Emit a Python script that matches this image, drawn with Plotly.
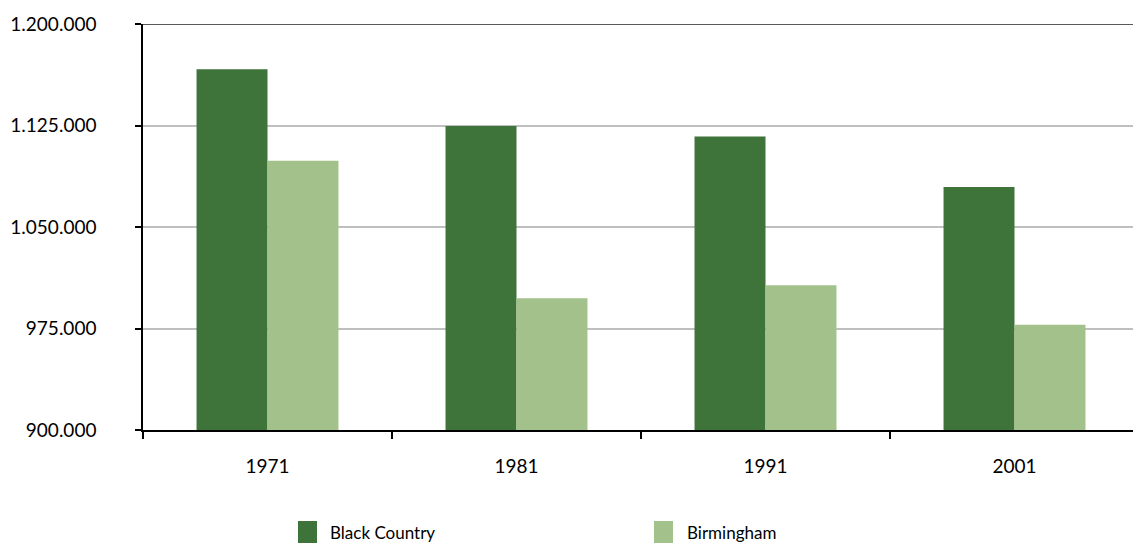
import plotly.graph_objects as go

# Population by census year
years = ["1971", "1981", "1991", "2001"]
black_country = [1166600, 1124600, 1116800, 1079500]
birmingham = [1099000, 997300, 1006900, 977700]

series_names = ["Black Country", "Birmingham"]
series_colors = ["#3E7339", "#A3C18A"]

W, H = 1133, 545
L, T, B = 143, 24, 430  # plot area edges in pixels

FONT = "Lato"
TICK_SIZE = 19
fig = go.Figure()
for name, vals, col in zip(series_names, [black_country, birmingham], series_colors):
    fig.add_trace(go.Bar(x=years, y=vals, name=name, marker_color=col,
                         marker_line_width=0, showlegend=False))


def px_x(p):
    return (p - L) / (W - L)


def px_y(p):
    return (B - p) / (B - T)


# Legend swatches and labels
legend_spots = [(298, 328), (654, 685)]
shapes = []
annotations = []
for (sx, tx), name, col in zip(legend_spots, series_names, series_colors):
    shapes.append(dict(type="rect", xref="paper", yref="paper",
                       x0=px_x(sx), x1=px_x(sx + 19), y0=px_y(521), y1=px_y(543),
                       fillcolor=col, line_width=0))
    annotations.append(dict(xref="paper", yref="paper", x=px_x(tx), y=px_y(532),
                            xanchor="left", yanchor="middle", showarrow=False,
                            text=name, font=dict(family=FONT, size=17, color="#000")))

# Dark top border of the plot area
shapes.append(dict(type="line", xref="paper", yref="y", x0=0, x1=1,
                   y0=1200000, y1=1200000, line=dict(color="#222", width=1.5)))

fig.update_layout(
    width=W, height=H,
    margin=dict(l=L, r=0, t=T, b=H - B, pad=0),
    plot_bgcolor="white", paper_bgcolor="white",
    separators=",.",
    barmode="group", bargap=0.43, bargroupgap=0,
    font=dict(family=FONT, size=17, color="#000"),
    showlegend=False,
    shapes=shapes, annotations=annotations,
    xaxis=dict(type="category", range=[-0.5, -0.5 + (W - L) / 249.0],
               showline=True, linecolor="#000", linewidth=1.5,
               ticks="outside", tickson="boundaries", ticklen=7,
               tickcolor="#000", tickwidth=1.5,
               ticklabelstandoff=18, showgrid=False,
               tickfont=dict(family=FONT, size=TICK_SIZE, color="#000")),
    yaxis=dict(range=[900000, 1200000], dtick=75000, tick0=900000,
               tickformat=",d", showline=True, linecolor="#000", linewidth=1.5,
               ticks="outside", ticklen=6, tickcolor="#000", tickwidth=1.5,
               ticklabelstandoff=35, showgrid=True, gridcolor="#BFBFBF",
               gridwidth=1.5, zeroline=False,
               tickfont=dict(family=FONT, size=TICK_SIZE, color="#000")),
)

fig.write_html("out.html")
